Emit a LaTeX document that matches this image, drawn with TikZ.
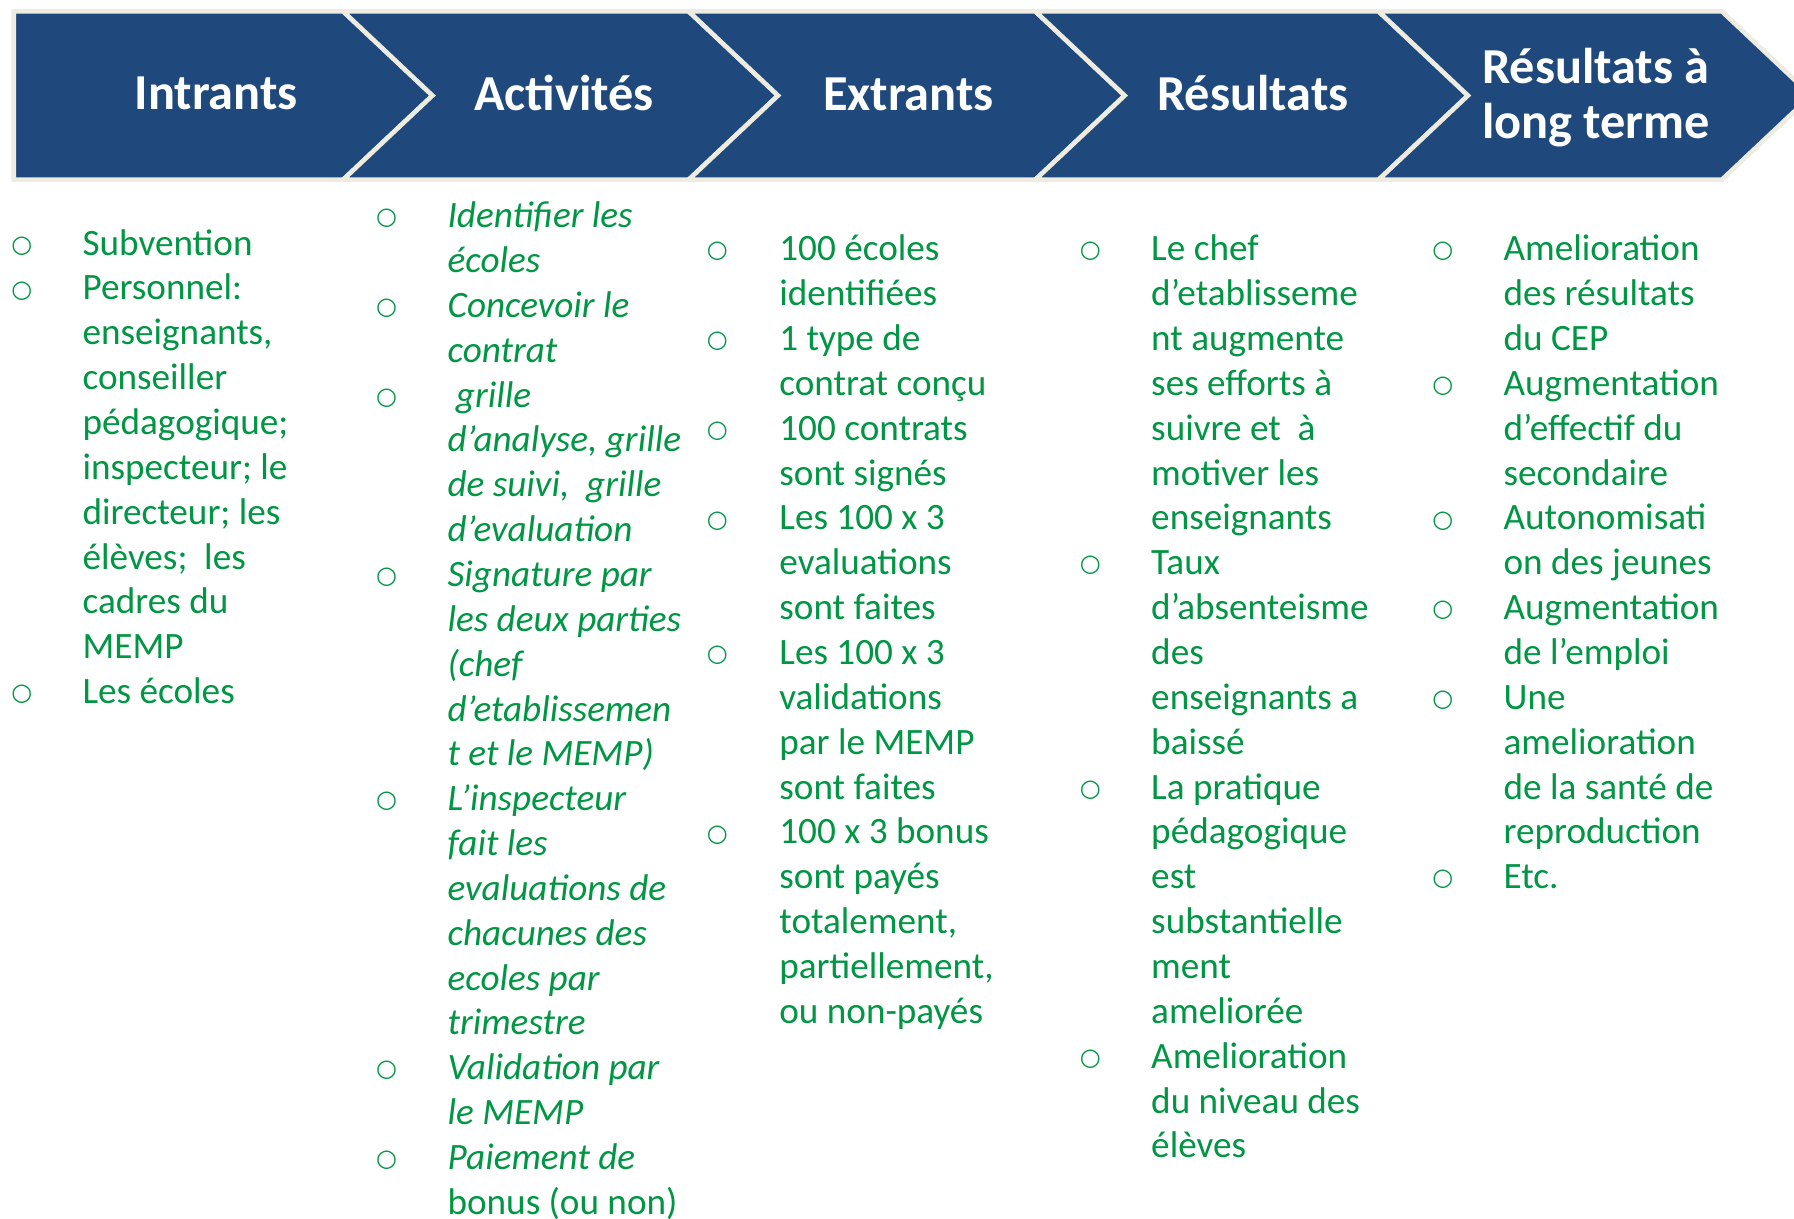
\documentclass[tikz,border=0pt]{standalone}
\usepackage{fontspec}
\setmainfont{Carlito}
\newfontfamily\bulletfont{DejaVu Sans}
\definecolor{chevblue}{RGB}{31,73,125}
\definecolor{chevline}{RGB}{238,236,225}
\definecolor{txtgreen}{RGB}{0,150,68}
\newcommand\colbox[1]{\vtop{\baselineskip=39.2pt\lineskiplimit=-100pt\lineskip=0pt\relax #1}}
\newcommand\myln[1]{\hbox{#1}}
\begin{document}
\begin{tikzpicture}[x=1pt,y=-1pt,
  chev/.style={fill=chevblue,draw=chevline,line width=4pt,line join=miter},
  title/.style={text=white,inner sep=0pt,anchor=base,font=\fontsize{44}{48}\selectfont\bfseries},
  body/.style={anchor=base west,inner sep=0pt,text=txtgreen,font=\fontsize{32.5}{39.2}\selectfont},
  bul/.style={anchor=center,inner sep=0pt,text=txtgreen,font=\bulletfont\fontsize{21}{22}\selectfont}]
\useasboundingbox (0,0) rectangle (1568,1065);
\clip (0,0) rectangle (1568,1065);
\fill[white] (0,0) rectangle (1568,1065);
% chevrons
\def\T{10}\def\B{157}\def\M{83.5}\def\D{78}
\draw[chev] (12,\T) -- (300,\T) -- (378,\M) -- (300,\B) -- (12,\B) -- cycle;
\foreach \a/\b in {300/602,602/905,905/1205,1205/1505}{
  \draw[chev] (\a,\T) -- (\b,\T) -- (\b+\D,\M) -- (\b,\B) -- (\a,\B) -- (\a+\D,\M) -- cycle;
}
% titles
\node[title] (t1) at (189,96) {Intrants};
\node[title] (t2) at (493,97) {Activités};
\node[title] (t3) at (794,97) {Extrants};
\node[title] (t4) at (1095,97) {Résultats};
\node[title,anchor=center,align=left] (t5) at (1395,85) {Résultats à\\long terme};
% column 1
\foreach \l in {0,1,10} \node[bul] (b1-\l) at (19,215+\l*39.2) {○};
\node[body] (c1) at (72,223) {\colbox{%
\myln{Subvention}
\myln{Personnel:}
\myln{enseignants,}
\myln{conseiller}
\myln{pédagogique;}
\myln{inspecteur; le}
\myln{directeur; les}
\myln{élèves;\ \ les}
\myln{cadres du}
\myln{MEMP}
\myln{Les écoles}}};
% column 2
\foreach \l in {0,2,4,8,13,19,21} \node[bul] (b2-\l) at (338,191+\l*39.2) {○};
\node[body] (c2) at (391,199) {\colbox{\itshape
\myln{Identifier les}
\myln{écoles}
\myln{Concevoir le}
\myln{contrat}
\myln{\ grille}
\myln{d’analyse, grille}
\myln{de suivi,\ \ grille}
\myln{d’evaluation}
\myln{Signature par}
\myln{les deux parties}
\myln{(chef}
\myln{d’etablissemen}
\myln{t et le MEMP)}
\myln{L’inspecteur}
\myln{fait les}
\myln{evaluations de}
\myln{chacunes des}
\myln{ecoles par}
\myln{trimestre}
\myln{Validation par}
\myln{le MEMP}
\myln{Paiement de}
\myln{\upshape bonus (ou non)}}};
% column 3
\foreach \l in {0,2,4,6,9,13} \node[bul] (b3-\l) at (627,220+\l*39.2) {○};
\node[body] (c3) at (681,228) {\colbox{%
\myln{100 écoles}
\myln{identifiées}
\myln{1 type de}
\myln{contrat conçu}
\myln{100 contrats}
\myln{sont signés}
\myln{Les 100 x 3}
\myln{evaluations}
\myln{sont faites}
\myln{Les 100 x 3}
\myln{validations}
\myln{par le MEMP}
\myln{sont faites}
\myln{100 x 3 bonus}
\myln{sont payés}
\myln{totalement,}
\myln{partiellement,}
\myln{ou non-payés}}};
% column 4
\foreach \l in {0,7,12,18} \node[bul] (b4-\l) at (953,220+\l*39.2) {○};
\node[body] (c4) at (1006,228) {\colbox{%
\myln{Le chef}
\myln{d’etablisseme}
\myln{nt augmente}
\myln{ses efforts à}
\myln{suivre et\ \ à}
\myln{motiver les}
\myln{enseignants}
\myln{Taux}
\myln{d’absenteisme}
\myln{des}
\myln{enseignants a}
\myln{baissé}
\myln{La pratique}
\myln{pédagogique}
\myln{est}
\myln{substantielle}
\myln{ment}
\myln{ameliorée}
\myln{Amelioration}
\myln{du niveau des}
\myln{élèves}}};
% column 5
\foreach \l in {0,3,6,8,10,14} \node[bul] (b5-\l) at (1261,220+\l*39.2) {○};
\node[body] (c5) at (1314,228) {\colbox{%
\myln{Amelioration}
\myln{des résultats}
\myln{du CEP}
\myln{Augmentation}
\myln{d’effectif du}
\myln{secondaire}
\myln{Autonomisati}
\myln{on des jeunes}
\myln{Augmentation}
\myln{de l’emploi}
\myln{Une}
\myln{amelioration}
\myln{de la santé de}
\myln{reproduction}
\myln{Etc.}}};
\end{tikzpicture}
\end{document}
